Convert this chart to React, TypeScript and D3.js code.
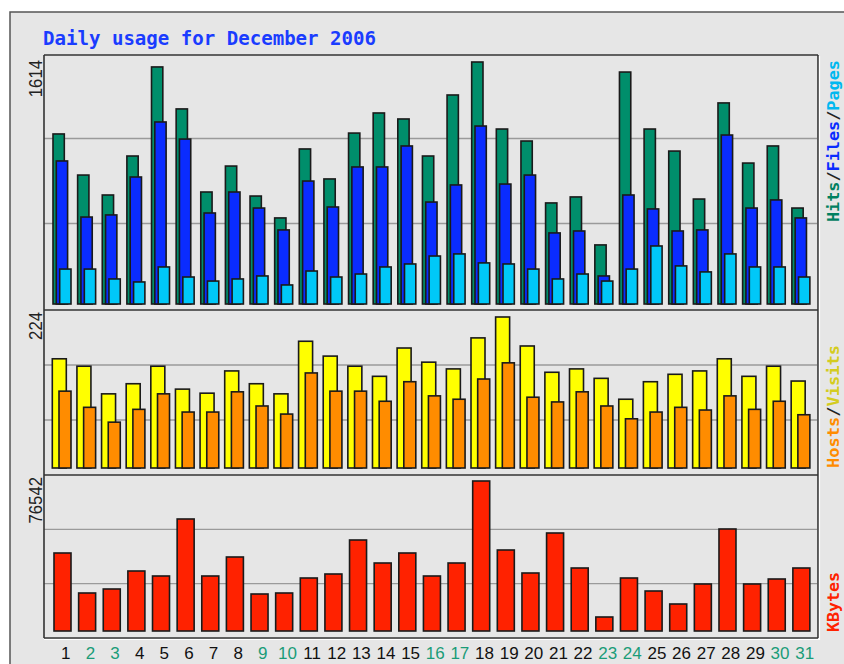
import React from "react";
import * as d3 from "d3";

// Daily usage, December 2006
const days = [1, 2, 3, 4, 5, 6, 7, 8, 9, 10, 11, 12, 13, 14, 15, 16, 17, 18, 19, 20, 21, 22, 23, 24, 25, 26, 27, 28, 29, 30, 31];
const weekendDays = [2, 3, 9, 10, 16, 17, 23, 24, 30, 31];

const hits = [1134, 860, 727, 987, 1581, 1301, 747, 920, 720, 574, 1034, 834, 1140, 1274, 1234, 987, 1394, 1614, 1167, 1087, 674, 714, 394, 1547, 1167, 1020, 700, 1341, 940, 1054, 640];
const files = [954, 580, 594, 847, 1214, 1100, 607, 747, 640, 494, 820, 647, 914, 914, 1054, 680, 794, 1187, 800, 860, 474, 487, 187, 727, 634, 487, 494, 1127, 640, 694, 574];
const pages = [233, 233, 167, 147, 247, 180, 153, 167, 187, 127, 220, 180, 200, 247, 267, 320, 334, 274, 267, 233, 167, 200, 153, 233, 387, 254, 214, 334, 247, 247, 180];

const visits = [162, 151, 110, 125, 151, 117, 111, 144, 125, 110, 188, 166, 151, 136, 178, 157, 147, 193, 224, 181, 142, 147, 133, 102, 128, 139, 144, 162, 136, 151, 129];
const hosts = [114, 90, 68, 87, 110, 83, 83, 113, 92, 80, 141, 114, 114, 99, 128, 107, 102, 132, 156, 105, 98, 113, 92, 73, 83, 90, 86, 107, 87, 99, 79];

const kbytes = [39803, 19391, 21433, 30618, 28067, 57154, 28067, 37762, 18881, 19391, 27046, 29087, 46437, 34700, 39803, 28067, 34700, 76542, 41334, 29597, 50009, 32149, 7144, 27046, 20412, 13778, 23984, 52051, 23984, 26536, 32149];

const maxLabels = ["1614", "224", "76542"];

const BG = "#e6e6e6";
const GRID = "#9a9a9a";
const EDGE = "#1a1a1a";
const LEFT = 44;
const RIGHT = 817;

// panel boxes (top, bottom) and bar baselines / tops
const panels = [
  { top: 55, bottom: 310, base: 304, peak: 62 },
  { top: 310, bottom: 475, base: 468, peak: 317 },
  { top: 475, bottom: 638, base: 631, peak: 481 },
];

function Bars({ data, y, x, off, w, fill }: any) {
  return (
    <g>
      {data.map((v: number, i: number) => (
        <rect
          key={i}
          x={(x(days[i]) as number) + off}
          y={y(v)}
          width={w}
          height={y(0) - y(v)}
          fill={fill}
          stroke={EDGE}
          strokeWidth={1.6}
        />
      ))}
    </g>
  );
}

export default function App() {
  const x = d3.scaleBand<number>().domain(days).range([53, 816.5]).paddingInner(0);

  const yTop = d3.scaleLinear().domain([0, d3.max(hits) as number]).range([panels[0].base, panels[0].peak]);
  const yMid = d3.scaleLinear().domain([0, d3.max(visits) as number]).range([panels[1].base, panels[1].peak]);
  const yBot = d3.scaleLinear().domain([0, d3.max(kbytes) as number]).range([panels[2].base, panels[2].peak]);

  const mono = "'DejaVu Sans Mono', monospace";
  const sans = "'Liberation Sans', Arial, sans-serif";

  return (
    <svg width={844} height={664} style={{ position: "absolute", left: 0, top: 0, background: "#fff" }}>
      {/* outer frame */}
      <rect x={10} y={12} width={860} height={700} fill={BG} stroke="#555" strokeWidth={1.5} />

      <text x={43} y={45} fill="#1a3cff" fontFamily={mono} fontWeight="bold" fontSize={19} textLength={333} lengthAdjust="spacingAndGlyphs">
        Daily usage for December 2006
      </text>

      {/* gridlines at thirds of each panel */}
      {panels.map((p, k) =>
        [1, 2].map((j) => {
          const gy = p.top + ((p.bottom - p.top) * j) / 3 - (k === 0 ? 1.5 : 0);
          return <line key={`${k}-${j}`} x1={LEFT} x2={RIGHT} y1={gy} y2={gy} stroke={GRID} strokeWidth={1.3} />;
        })
      )}

      <Bars data={hits} y={yTop} x={x} off={0} w={11.3} fill="#008e6b" />
      <Bars data={files} y={yTop} x={x} off={3.3} w={11.3} fill="#0a2cff" />
      <Bars data={pages} y={yTop} x={x} off={6.7} w={11.3} fill="#00c8f8" />

      <Bars data={visits} y={yMid} x={x} off={-0.7} w={14} fill="#ffff00" />
      <Bars data={hosts} y={yMid} x={x} off={6} w={12} fill="#ff8c00" />

      <Bars data={kbytes} y={yBot} x={x} off={1} w={17} fill="#ff2200" />

      {/* panel borders */}
      <line x1={LEFT} x2={RIGHT + 1} y1={55} y2={55} stroke="#333" strokeWidth={1.6} />
      <line x1={LEFT} x2={RIGHT + 1} y1={310} y2={310} stroke="#333" strokeWidth={1.6} />
      <line x1={LEFT} x2={RIGHT + 1} y1={475} y2={475} stroke="#333" strokeWidth={1.6} />
      <line x1={LEFT} x2={RIGHT + 1} y1={638} y2={638} stroke="#333" strokeWidth={1.6} />
      <line x1={LEFT} x2={LEFT} y1={55} y2={638} stroke="#333" strokeWidth={1.6} />
      <line x1={RIGHT + 1} x2={RIGHT + 1} y1={55} y2={638} stroke="#333" strokeWidth={1.6} />
      <line x1={RIGHT + 2.5} x2={RIGHT + 2.5} y1={56} y2={640} stroke="#fff" strokeWidth={1.2} />
      <line x1={LEFT} x2={RIGHT + 2.5} y1={639.5} y2={639.5} stroke="#fff" strokeWidth={1.2} />

      {/* max value labels */}
      {maxLabels.map((t, k) => (
        <text
          key={t}
          transform={`translate(42,${panels[k].top + (k === 0 ? 5 : 2)}) rotate(-90)`}
          textAnchor="end"
          fontFamily={sans}
          fontSize={19}
          fill="#222"
          textLength={t.length * 9.3}
          lengthAdjust="spacingAndGlyphs"
        >
          {t}
        </text>
      ))}

      {/* day labels */}
      {days.map((d) => (
        <text
          key={d}
          x={(x(d) as number) + x.bandwidth() / 2 + 0.5}
          y={659}
          textAnchor="middle"
          fontFamily={sans}
          fontSize={17}
          fill={weekendDays.includes(d) ? "#1a9c78" : "#111"}
        >
          {d}
        </text>
      ))}

      {/* series names on the right */}
      <text transform="translate(839,222) rotate(-90)" fontFamily={mono} fontWeight="bold" fontSize={16} textLength={162} lengthAdjust="spacingAndGlyphs">
        <tspan fill="#008060">Hits</tspan>
        <tspan fill="#222">/</tspan>
        <tspan fill="#0a2cff">Files</tspan>
        <tspan fill="#222">/</tspan>
        <tspan fill="#00b8f0">Pages</tspan>
      </text>
      <text transform="translate(839,468) rotate(-90)" fontFamily={mono} fontWeight="bold" fontSize={16} textLength={123} lengthAdjust="spacingAndGlyphs">
        <tspan fill="#ff8c00">Hosts</tspan>
        <tspan fill="#222">/</tspan>
        <tspan fill="#d4cc20">Visits</tspan>
      </text>
      <text transform="translate(839,632) rotate(-90)" fontFamily={mono} fontWeight="bold" fontSize={16} textLength={60} lengthAdjust="spacingAndGlyphs">
        <tspan fill="#ff2200">KBytes</tspan>
      </text>
    </svg>
  );
}
